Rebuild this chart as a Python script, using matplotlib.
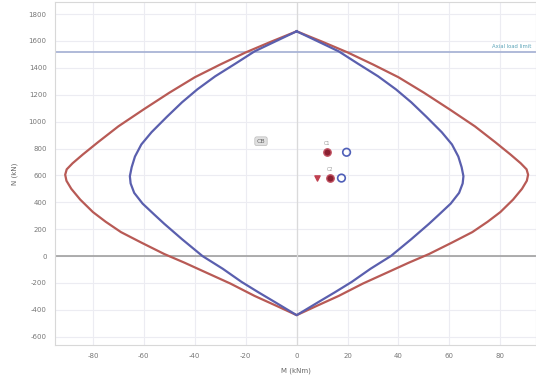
import matplotlib.pyplot as plt

plt.rcParams["axes.unicode_minus"] = False

# outer interaction curve (red), left half then right half
red_m = [0, -10, -20, -30, -40, -50, -60, -70, -78, -84, -88, -90.3, -90.9, -90.4, -88.5,
         -85, -80, -75, -69, -61, -52, -44, -36, -26, -16.5, -8, 0,
         8, 16.5, 26, 36, 44, 52, 61, 69, 75, 80, 85, 88.5, 90.4, 90.9, 90.3, 88,
         84, 78, 70, 60, 50, 40, 30, 20, 10, 0]
red_n = [1672, 1595, 1515, 1425, 1330, 1215, 1092, 965, 847, 755, 690, 645, 605, 560, 500,
         420, 327, 255, 178, 100, 15, -50, -119, -205, -297, -370, -440,
         -370, -297, -205, -119, -50, 15, 100, 178, 255, 327, 420, 500, 560, 605, 645, 690,
         755, 847, 965, 1092, 1215, 1330, 1425, 1515, 1595, 1672]

# inner interaction curve (blue)
blue_m = [0, -8, -16.5, -24, -32, -39, -45, -51, -57, -61, -63.5, -64.8, -65.5, -65.2, -63.8,
          -60.5, -56, -52, -45, -37, -29, -21.6, -15, -8.6, 0,
          8.6, 15, 21.6, 29, 37, 45, 52, 56, 60.5, 63.8, 65.2, 65.5, 64.8, 63.5,
          61, 57, 51, 45, 39, 32, 24, 16.5, 8, 0]
blue_n = [1672, 1600, 1523, 1432, 1337, 1240, 1144, 1035, 921, 830, 740, 660, 594, 540, 470,
          390, 310, 240, 125, 0, -95, -193, -270, -342, -440,
          -342, -270, -193, -95, 0, 125, 240, 310, 390, 470, 540, 594, 660, 740,
          830, 921, 1035, 1144, 1240, 1337, 1432, 1523, 1600, 1672]

axial_limit = 1515

# load points
red_pts_m = [12, 13]
red_pts_n = [772, 580]
blue_pts_m = [19.6, 17.6]
blue_pts_n = [772, 580]
v_pts_m = [8]
v_pts_n = [580]
pt_labels = ["C1", "C2"]

xticks = [-80, -60, -40, -20, 0, 20, 40, 60, 80]
yticks = [-600, -400, -200, 0, 200, 400, 600, 800, 1000, 1200, 1400, 1600, 1800]

fig = plt.figure(figsize=(5.36, 3.82), dpi=100)
ax = fig.add_axes([55 / 536, 37 / 382, 481 / 536, 343 / 382])

ax.set_xlim(-94.9, 94)
ax.set_ylim(-662, 1890)
ax.set_xticks(xticks)
ax.set_yticks(yticks)
ax.grid(True, color="#ececf2", lw=0.8)
ax.set_axisbelow(True)
ax.tick_params(labelsize=5, colors="#777777", length=0, pad=6)
for s in ax.spines.values():
    s.set_color("#d8d8d8")
    s.set_linewidth(0.8)

ax.axhline(0, color="#a0a0a0", lw=1.2, zorder=1)
ax.axvline(0, color="#dadada", lw=0.9, zorder=1)
ax.axhline(axial_limit, color="#a9b4d6", lw=1.3, zorder=1)
ax.text(92, axial_limit + 25, "Axial load limit", color="#5aa3b8", fontsize=3.8,
        ha="right", va="bottom")

ax.plot(red_m, red_n, color="#b85a55", lw=1.6, zorder=3, solid_joinstyle="round")
ax.plot(blue_m, blue_n, color="#5a5fae", lw=1.6, zorder=3, solid_joinstyle="round")

ax.scatter(red_pts_m, red_pts_n, s=28, color="#8a2030", edgecolors="#c05060",
           linewidths=1.0, zorder=5)
ax.scatter(blue_pts_m, blue_pts_n, s=30, facecolors="none", edgecolors="#4f5fb8",
           linewidths=1.2, zorder=5)
ax.scatter(v_pts_m, v_pts_n, s=14, marker="v", color="#c04050", zorder=5)
for m, n, t in zip(red_pts_m, red_pts_n, pt_labels):
    ax.text(m, n + 45, t, fontsize=3.5, color="#999999", ha="center", va="bottom")

ax.text(-14, 854, "CB", fontsize=4.5, color="#666666", ha="center", va="center",
        bbox=dict(boxstyle="round,pad=0.3", fc="#e0e0e0", ec="#bbbbbb", lw=0.5))

ax.set_xlabel("M (kNm)", fontsize=5, color="#666666", labelpad=6)
ax.set_ylabel("N (kN)", fontsize=5, color="#666666", labelpad=8)

fig.savefig("out.png", dpi=100)
